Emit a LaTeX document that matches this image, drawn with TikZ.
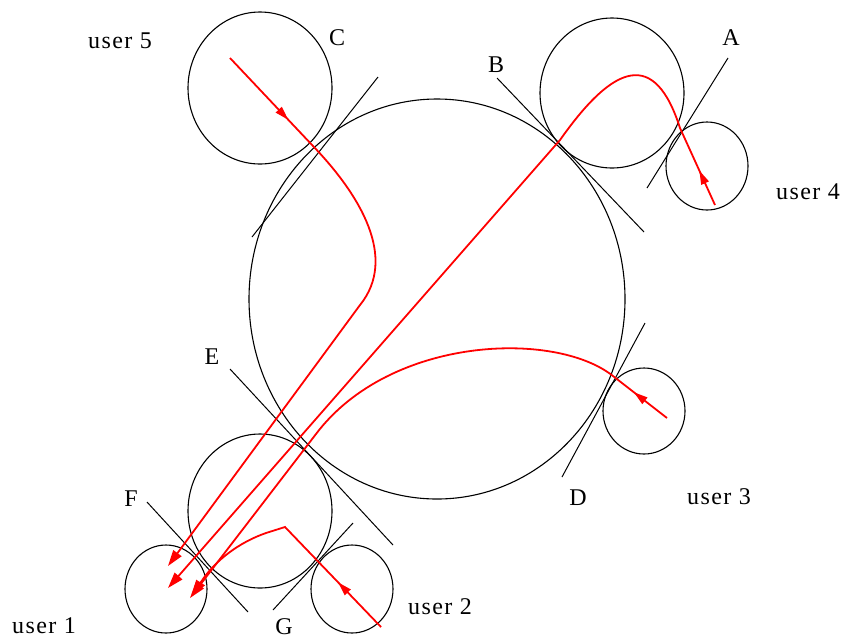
\documentclass[tikz,border=0pt]{standalone}
\usepackage{fontspec}
\setmainfont{Liberation Serif}
\usetikzlibrary{arrows.meta,decorations.markings}
\begin{document}
\begin{tikzpicture}[x=1pt,y=-1pt,
  circ/.style={line width=1.1pt, black},
  tline/.style={line width=1pt, black},
  rpath/.style={line width=1.8pt, red, -{Triangle[length=16pt,width=10pt]}},
  lbl/.style={font=\fontsize{24}{26}\selectfont\addfontfeature{LetterSpace=6}, inner sep=0pt},
  midarr/.style={postaction={decorate}, decoration={markings, mark=at position #1 with {\arrow{Triangle[length=14pt,width=8pt]}}}}
]
\fill[white] (0,0) rectangle (853,641);
\useasboundingbox (0,0) rectangle (853,641);

% circles
\draw[circ] (437,299) ellipse [x radius=188, y radius=200];
\draw[circ] (260,88) ellipse [x radius=72, y radius=76];
\draw[circ] (612,93) ellipse [x radius=72, y radius=75];
\draw[circ] (707,166) ellipse [x radius=41, y radius=44];
\draw[circ] (644,411) ellipse [x radius=41, y radius=43];
\draw[circ] (260,511) ellipse [x radius=72, y radius=77];
\draw[circ] (166,589) ellipse [x radius=41, y radius=44];
\draw[circ] (352,589) ellipse [x radius=41, y radius=44];

% tangent lines
\coordinate (lc1) at (252,237); \coordinate (lc2) at (378,77);
\coordinate (lb1) at (497,78);  \coordinate (lb2) at (644,232);
\coordinate (la1) at (728,58);  \coordinate (la2) at (647,188);
\coordinate (ld1) at (645,323); \coordinate (ld2) at (562,477);
\coordinate (le1) at (230,369); \coordinate (le2) at (393,545);
\coordinate (lf1) at (147,502); \coordinate (lf2) at (248,612);
\coordinate (lg1) at (273,610); \coordinate (lg2) at (353,523);
\draw[tline] (lc1) -- (lc2);
\draw[tline] (lb1) -- (lb2);
\draw[tline] (la1) -- (la2);
\draw[tline] (ld1) -- (ld2);
\draw[tline] (le1) -- (le2);
\draw[tline] (lf1) -- (lf2);
\draw[tline] (lg1) -- (lg2);

% red paths
\coordinate (s5) at (230,58); \coordinate (t5) at (313,146);
\coordinate (k5) at (360,305); \coordinate (e5) at (168,566);
\draw[rpath, midarr=85pt] (s5) -- (t5) .. controls (360,195) and (398,258) .. (k5) -- (e5);

\coordinate (s4) at (715,205); \coordinate (t4) at (680,128);
\coordinate (b4) at (560,140); \coordinate (e4) at (168,588);
\draw[rpath, midarr=38pt] (s4) -- (t4) .. controls (655,50) and (615,62) .. (b4) -- (e4);

\coordinate (s3) at (667,418); \coordinate (t3) at (613,376);
\coordinate (k3) at (316,434); \coordinate (e3) at (190,598);
\draw[rpath, midarr=42pt] (s3) -- (t3) .. controls (555,330) and (390,336) .. (k3) -- (e3);

\coordinate (s2) at (381,627); \coordinate (t2) at (285,527);
\coordinate (k2) at (266,533); \coordinate (e2) at (192,596);
\draw[rpath, midarr=62pt] (s2) -- (t2) -- (k2) .. controls (240,542) and (215,560) .. (e2);

% labels
\node[lbl] (u5) at (120,41) {user 5};
\node[lbl] (lC) at (337,38) {C};
\node[lbl] (lB) at (496,65) {B};
\node[lbl] (lA) at (731,38) {A};
\node[lbl] (u4) at (808,192) {user 4};
\node[lbl] (lE) at (212,357) {E};
\node[lbl] (lD) at (578,498) {D};
\node[lbl] (u3) at (719,497) {user 3};
\node[lbl] (lF) at (131,499) {F};
\node[lbl] (lG) at (284,627) {G};
\node[lbl] (u1) at (44,626) {user 1};
\node[lbl] (u2) at (440,607) {user 2};
\end{tikzpicture}
\end{document}
